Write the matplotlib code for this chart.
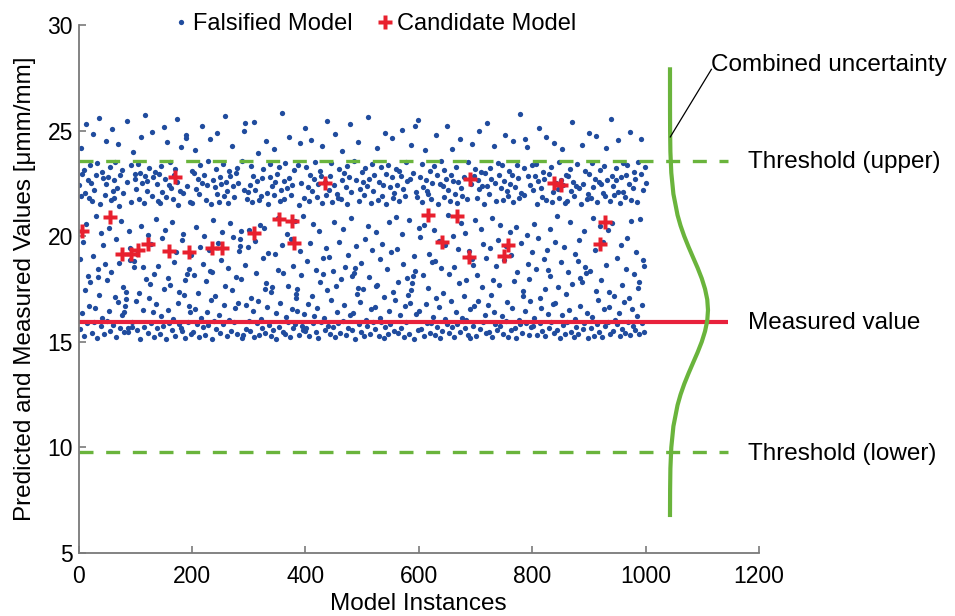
import numpy as np
import matplotlib
matplotlib.use("Agg")
import matplotlib.pyplot as plt

plt.rcParams['font.family'] = ['Liberation Sans', 'DejaVu Sans']

# predicted value of every falsified model instance (instance 1..1000)
falsified_y = [
    22.41, 15.62, 18.93, 24.17, 21.88, 16.35, 22.96, 19.74, 15.28, 23.12, 17.46, 22.03, 25.31, 20.58, 15.87, 22.67, 18.12, 21.79, 16.71, 23.38,
    17.83, 22.54, 15.41, 21.66, 24.82, 19.05, 22.19, 15.93, 16.58, 22.88, 20.94, 23.47, 15.16, 18.47, 18.06, 25.62, 17.21, 21.52, 15.74, 20.13,
    23.05, 16.12, 22.74, 19.56, 15.35, 21.97, 18.66, 22.45, 24.53, 15.98, 17.92, 22.81, 20.37, 16.44, 23.26, 15.53, 21.71, 18.29, 25.08, 22.12,
    15.79, 21.83, 22.64, 17.14, 23.51, 19.88, 15.22, 22.27, 16.89, 24.36, 21.45, 18.75, 15.66, 22.92, 20.71, 16.27, 23.14, 17.59, 22.06, 15.47,
    16.42, 16.71, 17.03, 17.38, 22.58, 25.44, 15.63, 15.47, 20.26, 19.42, 18.87, 23.39, 21.61, 15.95, 15.72, 24.01, 18.84, 18.55, 22.71, 22.93,
    16.94, 22.22, 19.17, 15.58, 23.44, 21.77, 17.33, 22.99, 15.12, 24.68, 20.49, 22.51, 16.52, 18.56, 21.58, 15.71, 22.85, 25.73, 17.98, 22.16,
    22.63, 15.44, 20.05, 23.21, 17.05, 17.72, 15.89, 19.61, 24.93, 21.92, 16.41, 22.78, 18.21, 15.25, 23.02, 20.82, 16.77, 22.49, 15.67, 21.69,
    18.61, 22.94, 15.37, 21.55, 16.23, 23.33, 19.93, 22.09, 15.76, 25.17, 17.52, 22.69, 20.31, 15.13, 21.86, 24.44, 18.02, 16.49, 22.44, 15.91,
    23.49, 17.71, 22.28, 15.55, 20.67, 21.74, 16.07, 22.91, 18.79, 15.29, 23.17, 19.24, 22.57, 25.56, 16.86, 21.49, 15.82, 17.38, 22.13, 24.22,
    15.64, 15.51, 19.83, 20.12, 22.04, 17.21, 17.91, 15.19, 24.81, 24.66, 18.22, 22.39, 15.94, 18.44, 16.69, 16.42, 21.63, 15.39, 19.13, 23.08,
    21.59, 15.48, 18.17, 22.97, 16.54, 24.09, 22.24, 20.44, 15.86, 22.72, 17.29, 21.99, 15.23, 23.36, 19.51, 16.13, 22.53, 25.24, 18.69, 15.69,
    22.89, 20.01, 15.33, 21.73, 17.87, 22.42, 16.39, 23.57, 15.78, 19.36, 18.35, 24.61, 16.97, 21.51, 15.15, 18.32, 22.66, 20.76, 15.99, 22.32,
    17.19, 23.19, 15.61, 22.01, 24.87, 19.69, 21.64, 16.28, 22.79, 15.42, 18.88, 22.47, 20.18, 15.83, 23.42, 16.74, 21.91, 17.62, 25.68, 22.59,
    15.26, 22.14, 21.57, 18.51, 23.11, 16.04, 20.62, 22.84, 15.51, 24.27, 17.43, 22.36, 19.97, 15.92, 21.84, 16.61, 22.99, 18.07, 15.36, 23.24,
    22.52, 16.83, 19.28, 19.55, 19.87, 20.24, 17.96, 23.54, 15.18, 15.31, 22.21, 24.98, 25.36, 18.63, 16.72, 15.59, 21.76, 19.47, 22.07, 15.97,
    20.29, 22.44, 15.49, 17.09, 23.31, 21.62, 16.47, 22.87, 25.39, 15.24, 19.79, 22.17, 18.24, 15.88, 22.61, 23.94, 16.92, 21.71, 15.34, 20.53,
    16.09, 21.88, 22.74, 15.65, 18.97, 23.16, 20.39, 17.48, 15.43, 17.77, 24.52, 22.03, 16.66, 19.21, 21.54, 15.81, 22.82, 23.41, 17.34, 15.27,
    22.38, 17.58, 15.57, 21.93, 24.13, 19.16, 22.56, 16.37, 15.14, 22.95, 20.84, 18.41, 23.27, 15.72, 21.67, 16.84, 22.18, 25.82, 19.59, 15.46,
    18.26, 22.62, 21.78, 15.38, 23.48, 16.16, 20.11, 22.26, 15.96, 17.66, 22.77, 24.71, 15.21, 19.89, 21.97, 16.53, 22.43, 18.58, 15.63, 23.13,
    15.85, 20.72, 17.05, 17.24, 17.48, 16.46, 23.37, 21.48, 15.32, 19.31, 24.39, 22.54, 18.14, 15.75, 15.58, 20.97, 16.33, 21.82, 25.11, 15.52,
    23.28, 15.66, 18.81, 22.33, 16.79, 21.68, 15.29, 22.91, 19.66, 24.56, 17.15, 22.15, 20.57, 15.89, 22.72, 16.24, 23.52, 18.39, 15.45, 21.87,
    16.59, 22.49, 15.17, 20.24, 23.09, 17.81, 22.83, 15.94, 21.59, 24.29, 18.99, 18.21, 16.15, 15.54, 22.58, 19.44, 21.95, 25.47, 17.43, 15.77,
    22.19, 19.02, 15.36, 22.86, 16.96, 23.46, 21.63, 15.68, 18.36, 22.41, 20.66, 15.22, 24.84, 17.64, 22.02, 16.43, 21.79, 15.87, 23.18, 19.73,
    15.41, 21.74, 17.97, 22.64, 24.03, 15.99, 20.35, 22.97, 16.72, 18.53, 22.34, 15.31, 23.32, 21.52, 19.11, 15.64, 22.79, 16.27, 25.29, 22.11,
    20.86, 15.58, 18.12, 16.36, 23.55, 18.27, 18.51, 15.15, 22.65, 19.52, 17.27, 17.56, 24.46, 15.83, 21.66, 16.89, 22.24, 15.47, 18.72, 23.04,
    17.52, 22.57, 15.26, 21.96, 19.86, 23.22, 16.02, 22.36, 15.73, 20.46, 25.63, 22.72, 18.09, 15.39, 21.58, 16.57, 23.44, 19.34, 15.92, 22.13,
    22.89, 16.64, 15.61, 20.19, 17.63, 17.69, 24.19, 21.72, 15.28, 22.55, 18.94, 16.14, 23.29, 15.96, 21.89, 19.61, 22.44, 15.18, 17.12, 24.91,
    15.72, 21.53, 22.96, 18.46, 15.35, 23.39, 20.68, 16.44, 22.32, 15.84, 19.26, 22.78, 24.64, 17.37, 21.79, 15.51, 22.06, 16.99, 20.93, 23.16,
    19.38, 22.42, 15.43, 17.84, 23.08, 21.69, 16.26, 22.87, 15.67, 25.02, 20.12, 22.22, 18.66, 15.24, 21.91, 16.69, 23.49, 15.93, 22.61, 18.04,
    17.21, 15.37, 20.77, 16.82, 22.69, 24.34, 17.44, 17.79, 18.13, 22.99, 19.06, 15.13, 25.21, 18.33, 22.09, 16.31, 21.84, 25.51, 15.56, 20.41,
    16.48, 22.81, 19.94, 15.62, 21.61, 23.43, 18.17, 22.31, 15.27, 20.54, 24.06, 22.67, 16.78, 15.88, 22.14, 17.53, 21.98, 19.18, 15.44, 23.07,
    21.74, 15.91, 22.52, 18.76, 16.19, 23.34, 20.27, 18.84, 15.33, 24.77, 17.06, 22.91, 15.69, 21.51, 19.78, 16.63, 22.46, 15.19, 23.56, 18.49,
    15.53, 22.37, 17.32, 21.86, 23.14, 16.06, 19.57, 22.73, 15.86, 25.21, 20.99, 22.19, 18.22, 15.41, 21.69, 16.93, 22.88, 15.71, 24.14, 19.99,
    22.63, 18.54, 15.23, 22.01, 16.39, 23.27, 21.57, 15.82, 19.41, 22.58, 17.78, 24.58, 15.47, 22.29, 20.63, 16.11, 21.92, 15.97, 22.79, 17.16,
    20.16, 15.64, 16.02, 17.91, 21.77, 15.32, 23.51, 19.29, 19.03, 16.54, 15.16, 22.49, 24.37, 18.91, 18.62, 15.77, 22.84, 16.68, 20.78, 23.19,
    15.29, 21.82, 18.18, 22.66, 16.91, 24.96, 22.24, 15.61, 20.33, 23.02, 17.58, 22.39, 15.94, 19.63, 21.53, 16.29, 22.98, 15.42, 18.97, 25.36,
    22.36, 16.76, 15.48, 21.99, 19.46, 23.25, 17.23, 22.71, 15.21, 20.88, 17.94, 24.26, 16.42, 15.85, 22.53, 18.58, 21.67, 15.58, 23.47, 19.84,
    17.67, 22.89, 15.74, 20.52, 22.27, 16.21, 23.35, 21.73, 15.37, 18.86, 22.62, 24.81, 15.99, 19.53, 22.16, 16.87, 21.89, 15.25, 23.11, 20.21,
    22.47, 15.54, 19.09, 22.92, 16.58, 21.61, 24.49, 17.89, 15.63, 22.34, 20.44, 15.18, 23.38, 18.31, 22.76, 16.03, 21.79, 25.77, 15.86, 22.04,
    19.68, 15.42, 17.16, 17.39, 21.94, 23.23, 16.47, 24.62, 15.91, 20.07, 24.23, 22.83, 18.68, 15.31, 17.95, 16.94, 22.42, 15.68, 19.23, 23.36,
    15.76, 22.18, 20.58, 16.14, 22.87, 18.43, 23.41, 21.51, 15.34, 19.91, 22.61, 25.14, 17.08, 15.89, 22.28, 16.61, 21.86, 15.52, 23.06, 18.94,
    22.73, 17.49, 15.28, 21.72, 24.68, 19.37, 18.41, 16.33, 15.67, 22.96, 20.32, 18.12, 23.28, 15.94, 21.64, 16.79, 22.07, 15.44, 24.41, 19.71,
    16.86, 22.51, 15.57, 20.96, 22.23, 17.61, 23.52, 21.83, 15.19, 18.77, 22.68, 16.25, 24.11, 15.81, 22.44, 19.49, 21.58, 15.35, 22.91, 17.26,
    21.66, 15.93, 22.84, 18.29, 16.49, 23.17, 20.69, 22.14, 15.46, 25.42, 17.73, 22.58, 15.24, 21.91, 19.14, 16.07, 22.39, 15.72, 23.44, 18.81,
    15.37, 22.26, 19.81, 18.01, 16.71, 21.54, 24.31, 17.84, 15.59, 22.47, 20.24, 15.88, 23.09, 18.53, 18.24, 16.38, 21.74, 15.16, 22.02, 24.88,
    22.93, 18.36, 15.65, 21.79, 16.19, 23.48, 20.86, 22.31, 15.29, 19.33, 22.72, 17.41, 24.73, 15.83, 21.62, 16.96, 22.55, 15.48, 20.49, 23.13,
    17.94, 22.45, 15.22, 22.06, 19.74, 23.32, 16.53, 21.88, 15.73, 24.17, 18.64, 22.64, 15.96, 20.29, 17.37, 16.66, 21.69, 15.39, 25.53, 22.87,
    20.62, 15.51, 22.38, 17.19, 21.96, 16.01, 23.21, 22.66, 15.85, 18.98, 24.54, 22.09, 16.34, 15.27, 21.55, 19.56, 22.82, 15.62, 17.71, 23.46,
    22.11, 16.87, 15.43, 21.84, 18.47, 22.89, 23.37, 19.92, 15.94, 22.48, 17.07, 24.92, 15.32, 21.71, 20.71, 16.56, 22.26, 15.77, 23.02, 18.19,
    15.58, 22.71, 19.27, 16.24, 21.64, 23.53, 17.55, 17.83, 15.36, 20.83, 22.94, 24.62, 16.73, 15.91, 22.17, 18.89, 18.58, 15.47, 23.26, 22.53,
]

# candidate models (instance number, predicted value)
candidate_x = [7, 56, 76, 92, 105, 123, 160, 170, 195, 235, 253, 309, 353, 377, 380, 434,
               616, 641, 667, 689, 690, 750, 757, 838, 850, 919, 928]
candidate_y = [20.26, 20.92, 19.14, 19.14, 19.35, 19.63, 19.30, 22.79, 19.27, 19.46, 19.46, 20.17,
               20.81, 20.71, 19.69, 22.50, 21.00, 19.74, 20.97, 19.03, 22.71, 19.04, 19.58, 22.50,
               22.42, 19.62, 20.66]

measured_value = 15.96
threshold_upper = 23.57
threshold_lower = 9.77

# combined uncertainty pdf, drawn sideways (value, horizontal width)
uncert_y = [6.8, 8.0, 9.0, 10.0, 11.0, 12.0, 12.5, 13.0, 13.5, 14.0, 14.5, 15.0, 15.5, 16.0, 16.5,
            17.0, 17.5, 18.0, 18.5, 19.0, 19.5, 20.0, 20.5, 21.0, 22.0, 23.0, 24.0, 25.0, 26.0, 27.9]
uncert_w = [0.0, 0.2, 0.7, 2.3, 6.0, 13.3, 18.6, 25.1, 32.6, 40.6, 48.7, 56.0, 61.8, 65.7, 67.0,
            65.7, 61.8, 56.0, 48.7, 40.6, 32.6, 25.1, 18.6, 13.3, 6.0, 2.3, 0.7, 0.2, 0.05, 0.0]
uncert_base = 1043

blue = '#204c9e'
red = '#e8202e'
green = '#6ab43c'
grey = '#7a7a7a'

fig = plt.figure(figsize=(9.55, 6.16), dpi=100)
ax = fig.add_axes([0.0822, 0.1023, 0.7126, 0.8571])

inst = np.arange(1, len(falsified_y) + 1)
ax.plot(inst, falsified_y, 'o', ms=3.8, mec='none', color=blue, label='Falsified Model')
ax.plot(candidate_x, candidate_y, 'P', ms=10, mec='none', color=red, label='Candidate Model')

ax.plot([0, 1145], [measured_value] * 2, color='#e8213c', lw=3, solid_capstyle='butt')
ax.plot([0, 1145], [threshold_upper] * 2, color=green, lw=2.4, dashes=(4.2, 3.8))
ax.plot([0, 1145], [threshold_lower] * 2, color=green, lw=2.4, dashes=(4.2, 3.8))

ax.plot(uncert_base + np.array(uncert_w), uncert_y, color=green, lw=3, clip_on=False)

# labels on the right
ax.text(1181, threshold_upper - 0.35, 'Threshold (upper)', fontsize=17.5, va='baseline')
ax.text(1181, measured_value - 0.35, 'Measured value', fontsize=17.5, va='baseline')
ax.text(1181, threshold_lower - 0.35, 'Threshold (lower)', fontsize=17.5, va='baseline')
ax.plot([1043.5, 1116], [24.7, 27.9], color='k', lw=0.9, clip_on=False)
ax.text(1116, 27.84, 'Combined uncertainty', fontsize=17.5, va='baseline')

ax.set_xlim(0, 1200)
ax.set_ylim(5, 30)
ax.set_xticks([0, 200, 400, 600, 800, 1000, 1200])
ax.set_yticks([5, 10, 15, 20, 25, 30])
ax.set_xlabel('Model Instances', fontsize=17.5, labelpad=4)
ax.set_ylabel('Predicted and Measured Values [μmm/mm]', fontsize=17.5, labelpad=8)

for s in ['top', 'right']:
    ax.spines[s].set_visible(False)
for s in ['left', 'bottom']:
    ax.spines[s].set_color(grey)
    ax.spines[s].set_linewidth(1.3)
ax.tick_params(direction='in', length=5, width=1.2, color=grey, labelsize=16.5)
ax.tick_params(axis='x', pad=8.5)
ax.tick_params(axis='y', pad=4)

ax.legend(loc='center', bbox_to_anchor=(0.435, 1.002), ncol=2, frameon=False,
          fontsize=17, handlelength=0.7, handletextpad=0.15, columnspacing=1.0,
          borderaxespad=0)

fig.savefig('out.png', dpi=100)
